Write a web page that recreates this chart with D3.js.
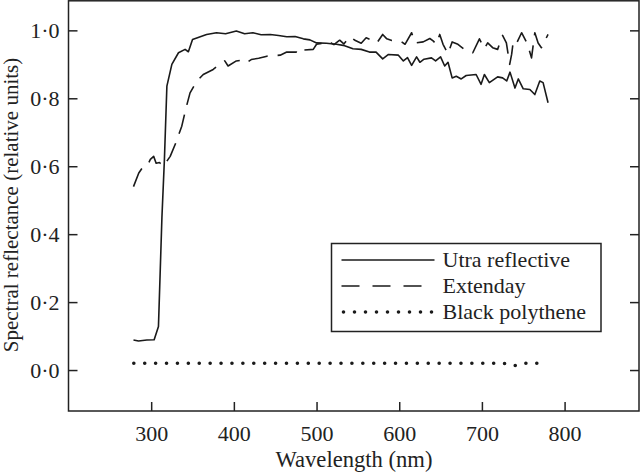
<!DOCTYPE html>
<html>
<head>
<meta charset="utf-8">
<script src="https://cdn.jsdelivr.net/npm/d3@7"></script>
<style>
  body { margin: 0; background: #fff; }
  svg { display: block; font-family: "Liberation Serif", "Times New Roman", serif; }
  .axis path, .axis line { stroke: #222; stroke-width: 1.5; }
  .axis text { font-family: "Liberation Serif", serif; font-size: 22px; fill: #222; }
</style>
</head>
<body>
<div id="chart"></div>
<script>
// Utra reflective (solid)
const ultraWl = [278.6, 284.7, 294.8, 303.6, 308.8, 313, 316, 319, 325, 333, 341, 345, 350, 367, 379, 390, 403, 413, 423, 433, 444, 454, 464, 474, 484, 492, 500, 512, 524, 534, 544, 554, 564, 572, 580, 587, 599, 605, 610, 615, 621, 625, 630, 639, 644, 650, 655, 659, 664, 669, 675, 681, 693, 699, 703, 709, 719, 725, 730, 734, 740, 744, 750, 758, 764, 770, 774, 780];
const ultraVal = [0.0885, 0.0855, 0.0885, 0.089, 0.128, 0.45, 0.62, 0.836, 0.90, 0.934, 0.944, 0.937, 0.973, 0.988, 0.993, 0.99, 0.998, 0.99, 0.993, 0.987, 0.988, 0.985, 0.981, 0.982, 0.975, 0.972, 0.963, 0.962, 0.959, 0.955, 0.946, 0.944, 0.936, 0.936, 0.916, 0.929, 0.927, 0.910, 0.92, 0.897, 0.922, 0.906, 0.915, 0.919, 0.910, 0.922, 0.895, 0.906, 0.860, 0.865, 0.857, 0.867, 0.870, 0.841, 0.870, 0.846, 0.863, 0.860, 0.851, 0.877, 0.830, 0.857, 0.828, 0.826, 0.811, 0.851, 0.846, 0.787];

// Extenday (dashed)
const extWl = [278.6, 285, 290.7, 296, 299, 303, 306, 310, 315, 319, 323, 330, 337, 342, 347, 355, 363, 375, 383, 389, 393, 403, 409, 415, 421, 430, 440, 456, 464, 476, 480, 484, 496, 500, 507, 514, 521, 528, 533, 540, 547, 554, 560, 566, 573, 580, 585, 591, 601, 607, 615, 619, 629, 637, 641, 645, 649, 653, 659, 664, 671, 683, 689, 697, 703, 707, 713, 719, 725, 729.6, 733.6, 736, 738, 742, 748, 755, 760, 764, 768, 772, 780];
const extVal = [0.54, 0.58, 0.60, 0.605, 0.62, 0.629, 0.609, 0.611, 0.60, 0.615, 0.629, 0.67, 0.718, 0.77, 0.816, 0.85, 0.87, 0.885, 0.90, 0.91, 0.895, 0.91, 0.912, 0.904, 0.914, 0.918, 0.924, 0.927, 0.936, 0.936, 0.93, 0.942, 0.944, 0.959, 0.962, 0.968, 0.958, 0.971, 0.96, 0.981, 0.97, 0.962, 0.978, 0.972, 0.963, 0.988, 0.975, 0.970, 0.969, 0.959, 0.993, 0.963, 0.966, 0.976, 0.969, 0.959, 0.988, 0.959, 0.931, 0.966, 0.959, 0.936, 0.934, 0.975, 0.946, 0.963, 0.949, 0.944, 0.985, 0.963, 0.900, 0.93, 0.969, 0.962, 0.993, 0.96, 0.919, 0.993, 0.963, 0.949, 0.988];

// Black polythene (dotted)
const blackWl = [279, 330, 380, 430, 480, 530, 580, 630, 680, 726, 740, 753, 767];
const blackVal = [0.02, 0.02, 0.02, 0.02, 0.02, 0.02, 0.02, 0.02, 0.02, 0.02, 0.013, 0.02, 0.02];

const xTicks = [300, 400, 500, 600, 700, 800];
const yTicks = [0, 0.2, 0.4, 0.6, 0.8, 1.0];

const series = [
  { name: "Utra reflective", wl: ultraWl, val: ultraVal, style: "solid" },
  { name: "Extenday", wl: extWl, val: extVal, style: "dashed" },
  { name: "Black polythene", wl: blackWl, val: blackVal, style: "dotted" }
];

const width = 640, height = 474;
const plot = { left: 68.5, right: 639, top: 0.8, bottom: 411 };

const svg = d3.select("#chart").append("svg")
  .attr("width", width)
  .attr("height", height);

const x = d3.scaleLinear().domain([200, 890]).range([plot.left, plot.right]);
const y = d3.scaleLinear().domain([-0.1206, 1.087]).range([plot.bottom, plot.top]);

const fmt = (d) => d3.format(".1f")(d).replace(".", "·");

// Axes, ticks pointing inward
const xAxis = svg.append("g")
  .attr("class", "axis")
  .attr("transform", `translate(0,${plot.bottom})`)
  .call(d3.axisBottom(x).tickValues(xTicks).tickSize(-9).tickPadding(14).tickSizeOuter(0));
xAxis.select(".domain").remove();

const yAxis = svg.append("g")
  .attr("class", "axis")
  .attr("transform", `translate(${plot.left},0)`)
  .call(d3.axisLeft(y).tickValues(yTicks).tickFormat(fmt).tickSize(-9).tickPadding(9).tickSizeOuter(0));
yAxis.select(".domain").remove();

const yRight = svg.append("g")
  .attr("class", "axis")
  .attr("transform", `translate(${plot.right},0)`)
  .call(d3.axisRight(y).tickValues(yTicks).tickFormat("").tickSize(-9).tickSizeOuter(0));
yRight.select(".domain").remove();

// Frame
svg.append("rect")
  .attr("x", plot.left)
  .attr("y", plot.top)
  .attr("width", plot.right - plot.left)
  .attr("height", plot.bottom - plot.top)
  .attr("fill", "none")
  .attr("stroke", "#222")
  .attr("stroke-width", 1.5);

// Lines
const line = d3.line()
  .x((d) => x(d[0]))
  .y((d) => y(d[1]));

series.forEach((s) => {
  const pts = s.wl.map((w, i) => [w, s.val[i]]);
  const p = svg.append("path")
    .datum(pts)
    .attr("d", line)
    .attr("fill", "none")
    .attr("stroke", "#1a1a1a")
    .attr("stroke-width", s.style === "dotted" ? 3.6 : 1.6)
    .attr("stroke-linejoin", "round");
  if (s.style === "dashed") p.attr("stroke-dasharray", "20,10");
  if (s.style === "dotted") {
    // spread 38 dots evenly along the path (a hair short so the last one shows)
    const len = p.node().getTotalLength();
    p.attr("stroke-dasharray", `0,${(len - 0.5) / 37}`).attr("stroke-linecap", "round");
  }
});

// Axis titles
svg.append("text")
  .attr("x", 354)
  .attr("y", 467)
  .attr("text-anchor", "middle")
  .attr("font-size", 22.6)
  .attr("fill", "#222")
  .text("Wavelength (nm)");

svg.append("text")
  .attr("transform", "translate(17.5,205) rotate(-90)")
  .attr("text-anchor", "middle")
  .attr("font-size", 21)
  .attr("fill", "#222")
  .text("Spectral reflectance (relative units)");

// Legend
const legend = svg.append("g").attr("transform", "translate(331.5,243.5)");
legend.append("rect")
  .attr("width", 269.5)
  .attr("height", 88)
  .attr("fill", "#fff")
  .attr("stroke", "#222")
  .attr("stroke-width", 1.5);

series.forEach((s, i) => {
  const ly = 16.5 + i * 26;
  const l = legend.append("line")
    .attr("x1", s.style === "dotted" ? 12 : 10)
    .attr("x2", 103)
    .attr("y1", ly)
    .attr("y2", ly)
    .attr("stroke", "#1a1a1a")
    .attr("stroke-width", s.style === "dotted" ? 3.6 : 1.6);
  if (s.style === "dashed") l.attr("stroke-dasharray", "18,13");
  if (s.style === "dotted") l.attr("stroke-dasharray", "0,11").attr("stroke-linecap", "round");
  legend.append("text")
    .attr("x", 111)
    .attr("y", ly + 7)
    .attr("font-size", 22)
    .attr("fill", "#222")
    .text(s.name);
});
</script>
</body>
</html>
